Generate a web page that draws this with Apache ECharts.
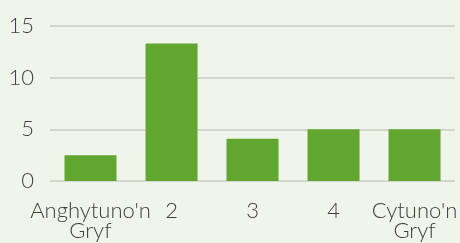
<!DOCTYPE html>
<html>
<head>
<meta charset="utf-8">
<script src="https://cdn.jsdelivr.net/npm/echarts@6/dist/echarts.min.js"></script>
<style>
  html, body { margin: 0; padding: 0; background: #f0f5eb; }
  #chart { width: 460px; height: 243px; }
</style>
</head>
<body>
<div id="chart"></div>
<script>
// categories and values
const categories = ["Anghytuno'n\nGryf", '2', '3', '4', "Cytuno'n\nGryf"];
const counts = [2.5, 13.3, 4.1, 5, 5];

const textColor = '#3f3f3f';
const fontFamily = 'Lato, "Open Sans", sans-serif';

const chart = echarts.init(document.getElementById('chart'));
chart.setOption({
  backgroundColor: '#f0f5eb',
  animation: false,
  grid: {
    left: 50,
    right: 2,
    top: 26,
    bottom: 62
  },
  xAxis: {
    type: 'category',
    data: categories,
    axisLine: { show: false },
    axisTick: { show: false },
    axisLabel: {
      interval: 0,
      margin: 20,
      color: textColor,
      fontFamily: fontFamily,
      fontWeight: 300,
      fontSize: 22,
      lineHeight: 20
    }
  },
  yAxis: {
    type: 'value',
    min: 0,
    max: 15,
    interval: 5,
    axisLine: { show: false },
    axisTick: { show: false },
    axisLabel: {
      margin: 16,
      color: textColor,
      fontFamily: fontFamily,
      fontWeight: 300,
      fontSize: 22
    },
    splitLine: {
      lineStyle: { color: '#d3d6d0', width: 2 }
    }
  },
  series: [{
    type: 'bar',
    data: counts,
    barWidth: 52,
    itemStyle: { color: '#61a62e' }
  }]
});
</script>
</body>
</html>
